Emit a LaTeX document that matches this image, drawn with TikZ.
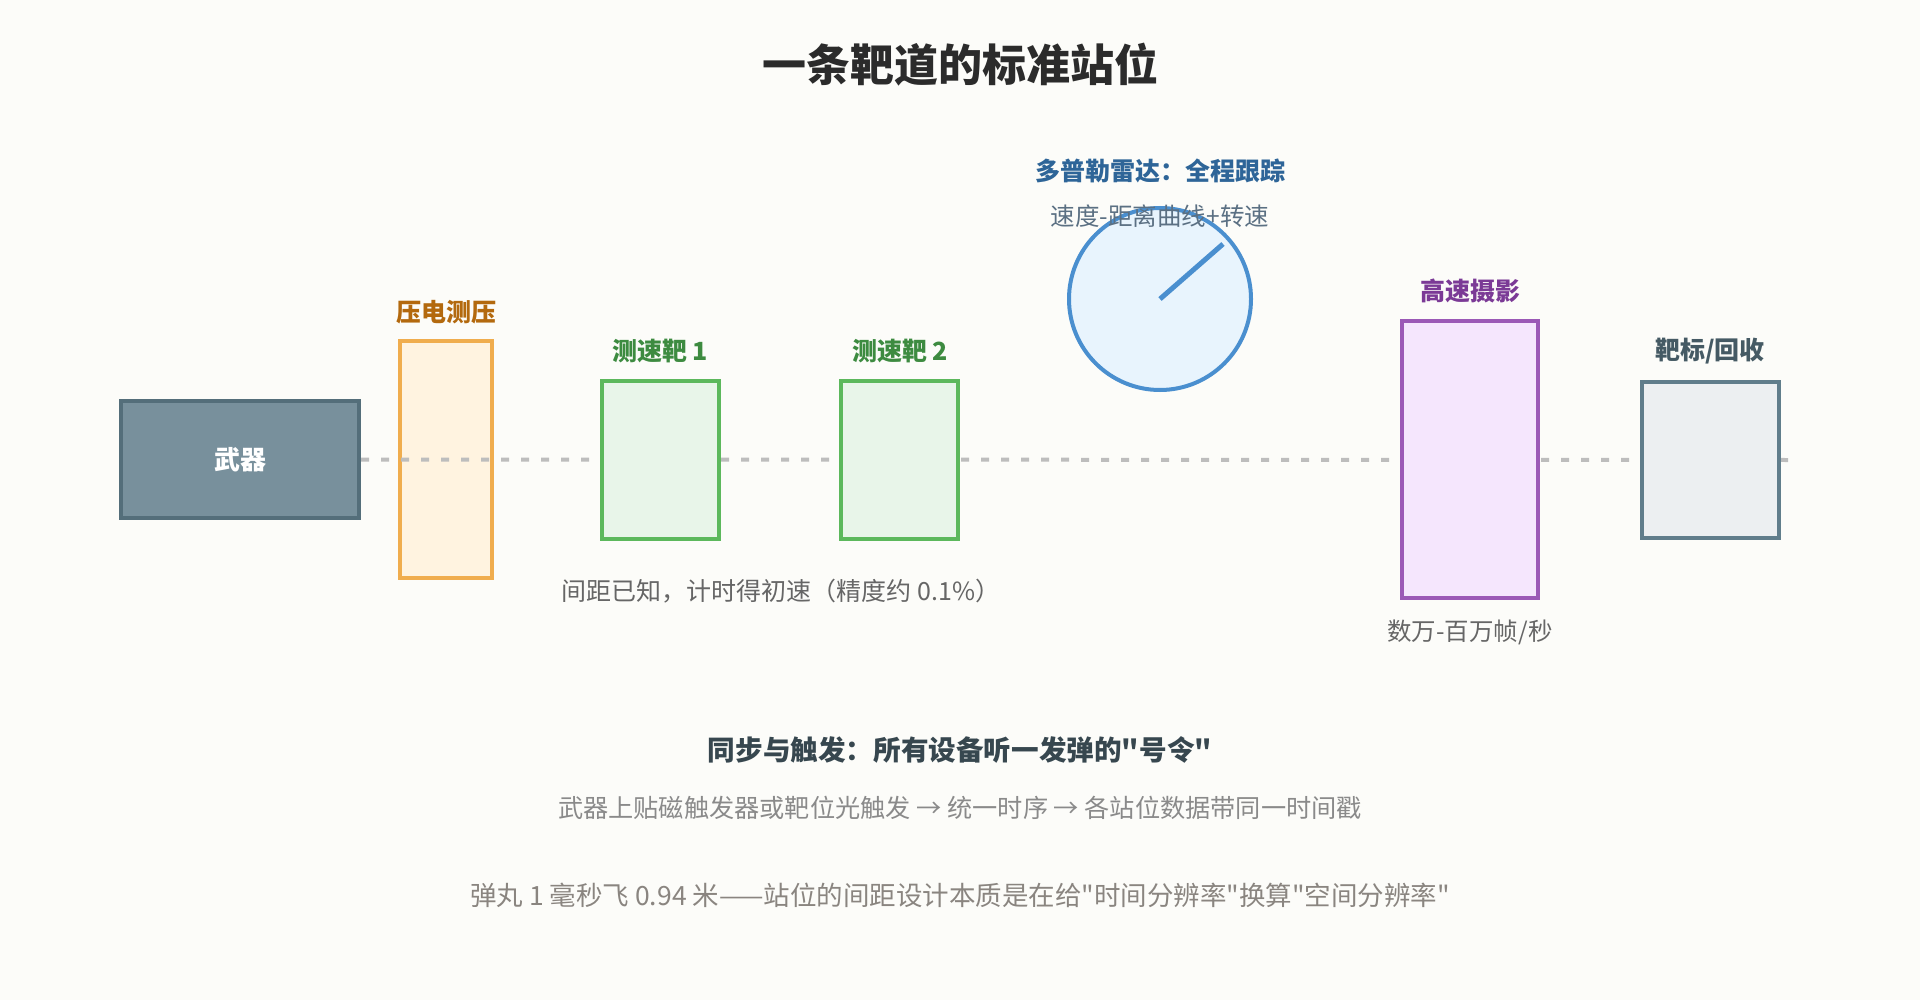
\documentclass[tikz,border=0pt]{standalone}
\usepackage{fontspec}
\setmainfont{Noto Sans CJK SC}[Ligatures=TeXOff]
\definecolor{bgc}{HTML}{FCFCF9}
\definecolor{titlec}{HTML}{2B2B2B}
\definecolor{weapfill}{HTML}{78909C}
\definecolor{weapdraw}{HTML}{546E7A}
\definecolor{presfill}{HTML}{FFF3E0}
\definecolor{presdraw}{HTML}{F0AD4E}
\definecolor{preslab}{HTML}{B3690E}
\definecolor{velfill}{HTML}{E8F5E9}
\definecolor{veldraw}{HTML}{5CB85C}
\definecolor{vellab}{HTML}{3D8B40}
\definecolor{radfill}{HTML}{E8F4FD}
\definecolor{raddraw}{HTML}{4A8FCF}
\definecolor{radlab}{HTML}{2E6598}
\definecolor{radsub}{HTML}{5B7083}
\definecolor{camfill}{HTML}{F5E6FD}
\definecolor{camdraw}{HTML}{9B59B6}
\definecolor{camlab}{HTML}{7B3A96}
\definecolor{recfill}{HTML}{ECEFF1}
\definecolor{recdraw}{HTML}{607D8B}
\definecolor{reclab}{HTML}{455A64}
\definecolor{capc}{HTML}{666666}
\definecolor{dashc}{HTML}{BDBDBD}
\definecolor{synct}{HTML}{37474F}
\definecolor{noteA}{HTML}{8A8A8A}
\definecolor{noteB}{HTML}{8A8580}
\newcommand{\fs}[1]{\fontsize{#1}{#1}\selectfont}
\tikzset{
  station/.style={draw, line width=4pt, inner sep=0pt, rectangle},
  lbl/.style={inner sep=0pt, font=\fs{25}\bfseries},
  captext/.style={inner sep=0pt, font=\fs{25}, text=capc},
  track/.style={draw=dashc, line width=4pt, dash pattern=on 8pt off 12pt},
}
\begin{document}
\begin{tikzpicture}[x=1pt,y=-1pt]
\fill[bgc] (0,0) rectangle (1920,1000);
\useasboundingbox (0,0) rectangle (1920,1000);

\node[inner sep=0pt, font=\fs{44}\bfseries, text=titlec] (title) at (960,65) {一条靶道的标准站位};

% weapon
\node[station, draw=weapdraw, fill=weapfill, minimum width=238pt, minimum height=117pt,
      font=\fs{26}\bfseries, text=white] (weapon) at (240,459.5) {武器};

% pressure
\node[station, draw=presdraw, fill=presfill, minimum width=92pt, minimum height=237pt] (pres) at (446,459.5) {};
\node[lbl, text=preslab] (preslbl) at (446,312) {压电测压};

% track line
\coordinate (trackend) at (1788,460);
\draw[track] (weapon.east) -- (trackend);

% velocity targets
\node[station, draw=veldraw, fill=velfill, minimum width=117pt, minimum height=158pt] (v1) at (660.5,460) {};
\node[station, draw=veldraw, fill=velfill, minimum width=117pt, minimum height=158pt] (v2) at (899.5,460) {};
\node[lbl, text=vellab] (v1lbl) at (660,351) {测速靶 1};
\node[lbl, text=vellab] (v2lbl) at (900,351) {测速靶 2};
\node[captext] (vcap) at (781,591) {间距已知，计时得初速（精度约 0.1\%）};

% radar
\node[circle, draw=raddraw, fill=radfill, line width=4pt, minimum size=182pt, inner sep=0pt] (radar) at (1160,299) {};
\coordinate (needle) at (1223,244);
\draw[raddraw, line width=5pt] (radar.center) -- (needle);
\node[lbl, text=radlab] (radlbl) at (1160,171) {多普勒雷达：全程跟踪};
\node[captext, font=\fs{24.5}, text=radsub] (radsub) at (1160,216) {速度-距离曲线+转速};

% camera
\node[station, draw=camdraw, fill=camfill, minimum width=136pt, minimum height=277pt] (cam) at (1470,459.5) {};
\node[lbl, text=camlab] (camlbl) at (1470,291) {高速摄影};
\node[captext, font=\fs{24.5}, text=capc] (camcap) at (1470,632) {数万-百万帧/秒};

% recovery
\node[station, draw=recdraw, fill=recfill, minimum width=137pt, minimum height=156pt] (rec) at (1710.5,460) {};
\node[lbl, text=reclab] (reclbl) at (1710,351) {靶标/回收};

% bottom notes
\node[inner sep=0pt, font=\fs{27.6}\bfseries, text=synct] (sync) at (960,750) {同步与触发：所有设备听一发弹的"号令"};
\node[inner sep=0pt, font=\fs{25.2}, text=noteA] (syncsub) at (960,808) {武器上贴磁触发器或靶位光触发 → 统一时序 → 各站位数据带同一时间戳};
\node[inner sep=0pt, font=\fs{26.5}, text=noteB] (note) at (960,895) {弹丸 1 毫秒飞 0.94 米——站位的间距设计本质是在给"时间分辨率"换算"空间分辨率"};
\end{tikzpicture}
\end{document}
